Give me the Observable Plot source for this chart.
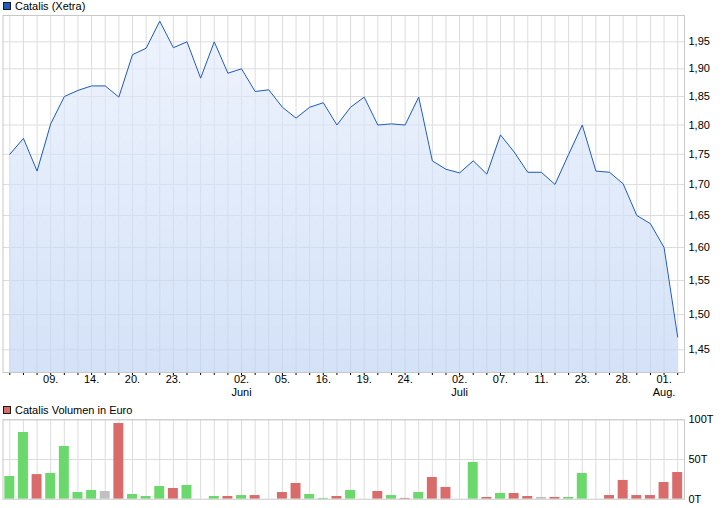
<!DOCTYPE html>
<html><head><meta charset="utf-8">
<script src="https://cdn.jsdelivr.net/npm/d3@7"></script>
<script src="https://cdn.jsdelivr.net/npm/@observablehq/plot@0.6"></script>
<style>
body{margin:0;background:#fff;font-family:Arial,"Liberation Sans",sans-serif;}
#wrap{position:relative;width:726px;height:508px;overflow:hidden;}
.leg{position:absolute;left:3px;font-size:11px;line-height:12px;display:flex;align-items:center;color:#000;white-space:nowrap;z-index:2;}
.sw{width:6px;height:6px;border:1px solid #1a1a1a;margin-right:4px;}
.chart{position:absolute;left:0;}
</style></head>
<body><div id="wrap">
<div class="leg" style="top:0px"><div class="sw" style="background:#1f5cc0"></div>Catalis (Xetra)</div>
<div class="leg" style="top:404px"><div class="sw" style="background:#d96b6b"></div>Catalis Volumen in Euro</div>
<div id="c1" class="chart" style="top:0"></div>
<div id="c2" class="chart" style="top:400px"></div>
</div>
<script>
// Closing prices (EUR), one per trading day
const price = [1.75,1.777,1.722,1.802,1.85,1.861,1.869,1.869,1.849,1.926,
  1.938,1.989,1.939,1.95,1.883,1.95,1.892,1.90,1.859,1.862,
  1.831,1.812,1.831,1.839,1.80,1.831,1.849,1.80,1.802,1.80,
  1.849,1.739,1.725,1.719,1.739,1.717,1.783,1.754,1.72,1.72,
  1.70,1.75,1.80,1.722,1.72,1.701,1.65,1.637,1.60,1.468];
// Volume in thousands of euro
const volume = [28.6,84,31,32.4,66.4,8.4,11,9.7,95.3,5.9,
  3.4,16,13.5,17.3,0,3.4,3.4,4.6,4.6,0,
  8.4,19.8,5.9,1,3.4,11,0,9.7,4.6,1,
  8.4,27.3,14.8,0,46.2,2.2,7.2,7.2,3.4,2.2,
  2.2,2.2,32.4,0,4.6,23.6,4.6,4.6,21,33.6];
const tickIdx = [3,6,9,12,17,20,23,26,29,33,36,39,42,45,48];
const dayLabels = ["09.","14.","20.","23.","02.","05.","16.","19.","24.","02.","07.","11.","23.","28.","01."];
const monthIdx = [17,33,48];
const monthLabels = ["Juni","Juli","Aug."];
const yTicks = [1.45,1.50,1.55,1.60,1.65,1.70,1.75,1.80,1.85,1.90,1.95];
const volTicks = [0,50,100];
const yDomain = [1.4187,2.0];

const idx = d3.range(price.length);
const pdata = idx.map(i => ({i, p: price[i]}));
const vdata = idx.map(i => ({i, v: volume[i],
  dir: i === 0 ? "up" : price[i] > price[i-1] ? "up" : price[i] < price[i-1] ? "down" : "flat"}));
const dayMap = new Map(tickIdx.map((t,k) => [t, dayLabels[k]]));
const months = monthIdx.map((t,k) => ({i: t, m: monthLabels[k]}));
const grid = "#dcdcdc";
const font = {fontFamily: "Arial, 'Liberation Sans', sans-serif", fontSize: "11px", background: "transparent", color: "#000"};

const svg1 = Plot.plot({
  width: 726, height: 400,
  marginTop: 15, marginBottom: 28, marginLeft: 2.5, marginRight: 42,
  style: font,
  x: {type: "point", domain: idx, padding: 0.5, tickSize: 3, tickPadding: 0,
      tickFormat: i => dayMap.get(i) ?? "", label: null},
  y: {type: "log", domain: yDomain, ticks: yTicks, axis: "right", tickSize: 0, tickPadding: 4,
      tickFormat: d => d.toFixed(2).replace(".", ","), label: null},
  marks: [
    Plot.ruleX(idx, {x: d => d, stroke: grid}),
    Plot.ruleY(yTicks, {y: d => d, stroke: grid}),
    Plot.areaY(pdata, {x: "i", y1: yDomain[0], y2: "p", fill: "url(#areaGrad)", fillOpacity: 0.66}),
    Plot.lineY(pdata, {x: "i", y: "p", stroke: "#1f5cc0", strokeWidth: 1}),
    Plot.frame({stroke: "#c8c8c8"}),
    Plot.text(months, {x: "i", text: "m", frameAnchor: "bottom", dy: 15.5, lineAnchor: "top", fill: "#000"})
  ]
});
const defs = d3.select(svg1).insert("defs", ":first-child");
const lg = defs.append("linearGradient").attr("id", "areaGrad")
  .attr("gradientUnits", "userSpaceOnUse").attr("x1", 0).attr("x2", 0).attr("y1", 15).attr("y2", 372);
lg.append("stop").attr("offset", "0%").attr("stop-color", "#e6eefc");
lg.append("stop").attr("offset", "100%").attr("stop-color", "#bed3f4");
document.getElementById("c1").appendChild(svg1);

const svg2 = Plot.plot({
  width: 726, height: 108,
  marginTop: 19.3, marginBottom: 9.3, marginLeft: 2.5, marginRight: 42,
  style: font,
  x: {type: "band", domain: idx, paddingInner: 0.27, paddingOuter: 0.135, axis: null},
  y: {domain: [0, 100], ticks: volTicks, axis: "right", tickSize: 0, tickPadding: 4,
      tickFormat: d => d + "T", label: null},
  color: {domain: ["up", "down", "flat"], range: ["#6ad86a", "#d96b6b", "#c0c0c0"]},
  marks: [
    Plot.ruleX(idx, {x: d => d, stroke: grid}),
    Plot.ruleY([50, 100], {y: d => d, stroke: grid}),
    Plot.barY(vdata, {x: "i", y: "v", fill: "dir"}),
    Plot.frame({stroke: "#c8c8c8"})
  ]
});
document.getElementById("c2").appendChild(svg2);
</script>
</body></html>
